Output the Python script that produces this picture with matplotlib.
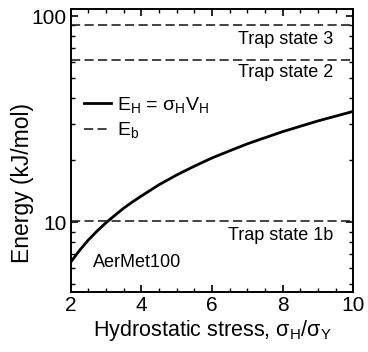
import matplotlib
matplotlib.use("Agg")
import matplotlib.pyplot as plt
from matplotlib.ticker import FixedLocator, NullFormatter, MultipleLocator, FixedFormatter

plt.rcParams['font.family'] = ['Liberation Sans', 'DejaVu Sans']
plt.rcParams['mathtext.fontset'] = 'custom'
plt.rcParams['mathtext.rm'] = 'Liberation Sans'
plt.rcParams['mathtext.it'] = 'Liberation Sans'

# Data
stress_ratio = [2.0, 2.25, 2.5, 2.75, 3.0, 3.25, 3.5, 3.75, 4.0, 4.5, 5.0, 5.5, 6.0,
                6.5, 7.0, 7.5, 8.0, 8.5, 9.0, 9.5, 10.0]
energy_EH = [6.4, 7.3, 8.2, 9.07, 9.95, 10.8, 11.7, 12.55, 13.4, 15.2, 16.95, 18.7, 20.5,
             22.2, 24.0, 25.7, 27.5, 29.2, 31.0, 32.7, 34.5]
trap_names = ["Trap state 3", "Trap state 2", "Trap state 1b"]
trap_Eb = [90, 61, 10.1]
trap_label_y = [77, 53, 8.6]

fig = plt.figure(figsize=(3.68, 3.52), dpi=100)
ax = fig.add_axes([0.192, 0.171, 0.768, 0.803])

ax.plot(stress_ratio, energy_EH, color='black', lw=2.0,
        label=r'E$_\mathregular{H}$ = σ$_\mathregular{H}$V$_\mathregular{H}$')
for i, e in enumerate(trap_Eb):
    ax.axhline(e, color='#222222', lw=1.2, ls=(0, (5.5, 2.6)),
               label='E$_\\mathregular{b}$' if i == 0 else None)
for name, ty in zip(trap_names, trap_label_y):
    ax.text(9.43, ty, name, ha='right', va='center', fontsize=13)
ax.text(2.63, 6.4, "AerMet100", ha='left', va='center', fontsize=13)

ax.set_yscale('log')
ax.set_xlim(2, 10)
ax.set_ylim(4.6, 108)
ax.yaxis.set_major_locator(FixedLocator([10, 100]))
ax.yaxis.set_major_formatter(FixedFormatter(['10', '100']))
ax.yaxis.set_minor_locator(FixedLocator([5, 6, 7, 8, 9, 20, 30, 40, 50, 60, 70, 80, 90]))
ax.yaxis.set_minor_formatter(NullFormatter())
ax.xaxis.set_major_locator(MultipleLocator(2))
ax.xaxis.set_minor_locator(MultipleLocator(0.5))

ax.tick_params(which='both', direction='in', top=True, right=True, labelsize=15)
ax.tick_params(which='major', length=5, width=1.2, pad=3)
ax.tick_params(which='minor', length=3, width=1.0)
for s in ax.spines.values():
    s.set_linewidth(1.4)

ax.set_xlabel(r'Hydrostatic stress, σ$_\mathregular{H}$/σ$_\mathregular{Y}$', fontsize=15.5, labelpad=2)
ax.set_ylabel('Energy (kJ/mol)', fontsize=16.5)
ax.yaxis.set_label_coords(-0.128, 0.385)

leg = ax.legend(loc='upper left', bbox_to_anchor=(0.02, 0.725), frameon=False,
                fontsize=14, handlelength=1.4, handletextpad=0.3, labelspacing=0.3,
                borderaxespad=0)

fig.savefig('out.png', dpi=100)
